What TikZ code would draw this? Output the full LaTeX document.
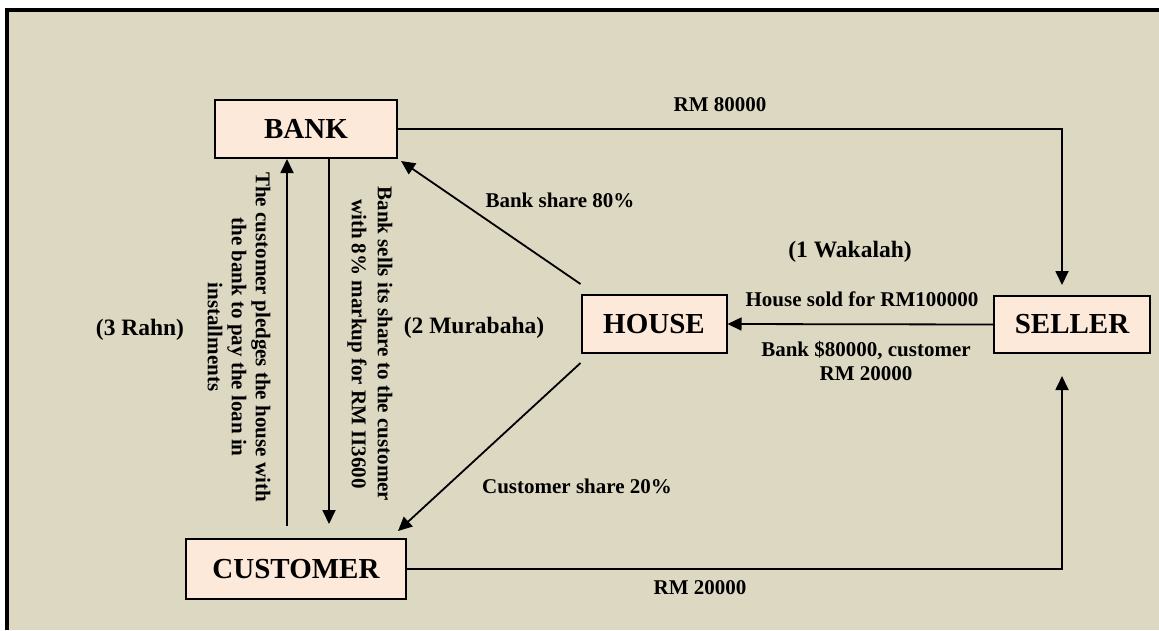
\documentclass[tikz,border=0pt]{standalone}
\usepackage{fontspec}
\setmainfont{Liberation Serif}
\usetikzlibrary{arrows.meta}
\definecolor{bgcol}{RGB}{221,216,194}
\definecolor{boxcol}{RGB}{253,233,218}

\begin{document}
\begin{tikzpicture}[x=1pt,y=-1pt]
\tikzstyle{party}=[draw, line width=2pt, fill=boxcol, inner sep=0pt, font=\fontsize{29}{34}\selectfont\bfseries]
\tikzstyle{flow}=[line width=1.8pt, -{Triangle[length=14pt,width=13pt]}]
\tikzstyle{lbl}=[inner sep=0pt, align=center, font=\fontsize{21}{24}\selectfont\bfseries]
\tikzstyle{stage}=[inner sep=0pt, font=\fontsize{23.5}{28}\selectfont\bfseries]

\useasboundingbox (0,0) rectangle (1159,630);
\fill[bgcol] (5,8) rectangle (1159,630);
\draw[line width=4pt] (7,630) -- (7,10) -- (1159,10);

\node[party, minimum width=182pt, minimum height=58pt] (bank) at (306,129) {BANK};
\node[party, minimum width=220pt, minimum height=60pt] (customer) at (296,569) {CUSTOMER};
\node[party, minimum width=145pt, minimum height=58pt] (house) at (654,324) {HOUSE};
\node[party, minimum width=156pt, minimum height=57pt] (seller) at (1072,324.5) {SELLER};

% payments to the seller
\draw[flow, shorten >=10pt] (bank.east) -| ([xshift=-10pt]seller.north);
\draw[flow, shorten >=22pt] (customer.east) -| ([xshift=-10pt]seller.south);
\draw[flow] (seller.west) -- (house.east);
% shares of the house
\draw[flow] ([yshift=10pt]house.north west) -- ([xshift=3pt,yshift=-2pt]bank.south east);
\draw[flow] ([yshift=-9pt]house.south west) -- ([xshift=-9pt,yshift=7pt]customer.north east);
% murabaha and rahn
\draw[flow] ([xshift=-9pt,yshift=12pt]customer.north) -- ([xshift=-19pt]bank.south);
\draw[flow] ([xshift=23pt]bank.south) -- ([xshift=33pt,yshift=14pt]customer.north);

\node[lbl] (rm80) at (720,105) {RM 80000};
\node[lbl] (bshare) at (560,200) {Bank share 80\%};
\node[stage] (wakalah) at (850,252) {(1 Wakalah)};
\node[lbl] (sold) at (862,299) {House sold for RM100000};
\node[lbl] (paid) at (866,361) {Bank \$80000, customer\\RM 20000};
\node[stage] (murabaha) at (474,328) {(2 Murabaha)};
\node[lbl] (cshare) at (577,486) {Customer share 20\%};
\node[lbl] (rm20) at (700,588) {RM 20000};
\node[stage] (rahn) at (140,330) {(3 Rahn)};
\node[lbl, rotate=-90, font=\fontsize{21}{26}\selectfont\bfseries] (sells) at (370,344) {Bank sells its share to the customer\\with 8\% markup for RM II3600};
\node[lbl, rotate=-90] (pledge) at (239,337) {The customer pledges the house with\\the bank to pay the loan in\\installments};
\end{tikzpicture}
\end{document}
